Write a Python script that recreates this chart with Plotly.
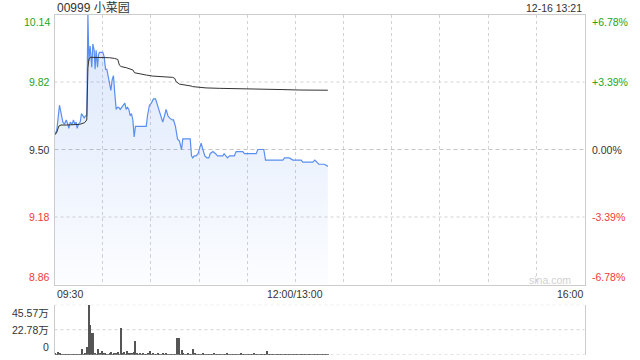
import plotly.graph_objects as go

# ---------------- data ----------------
title_text = "00999 小菜园"
stamp_text = "12-16 13:21"
prev_close = 9.50

price_ticks = [10.14, 9.82, 9.50, 9.18, 8.86]
price_tick_labels = ["10.14", "9.82", "9.50", "9.18", "8.86"]
pct_tick_labels = ["+6.78%", "+3.39%", "0.00%", "-3.39%", "-6.78%"]

time_tick_vals = [0, 150, 330]          # minutes of trading since 09:30
time_tick_labels = ["09:30", "12:00/13:00", "16:00"]

vol_ticks = [45.57, 22.78, 0]
vol_tick_labels = ["45.57万", "22.78万", "0"]

price_t = [0, 1.4, 3.1, 4.4, 5.2, 6.2, 7.3, 8.3, 8.9, 9.8, 11.0, 11.8, 12.7, 13.5, 14.1, 14.9,
           16.0, 16.8, 17.6, 18.5, 19.3, 20.1, 20.8, 21.4, 22.2, 23.2, 23.9, 24.7, 25.3, 25.9,
           26.8, 27.4, 28.0, 28.8, 30.1, 30.9, 31.8, 32.6, 33.4, 34.2, 35.1, 35.9, 36.7, 37.6,
           38.4, 39.2, 40.0, 40.9, 41.7, 43.0, 43.8, 44.6, 45.4, 46.3, 47.1, 47.9, 48.8, 49.6,
           50.4, 51.3, 57.1, 57.9, 59.1, 60.3, 61.6, 62.9, 63.7, 64.5, 65.8, 66.6, 67.4, 68.5,
           69.5, 70.6, 71.6, 73.3, 74.1, 75.3, 76.6, 77.8, 79.1, 79.9, 81.1, 83.2, 84.5, 85.3,
           86.1, 87.0, 88.2, 89.4, 90.3, 91.3, 92.4, 93.6, 94.9, 96.1, 96.9, 98.6, 100.3, 101.5,
           103.2, 104.8, 105.6, 106.9, 107.7, 109.0, 112.0, 113.1, 117.2, 118.3, 125.6, 126.6,
           130.3, 131.4, 142.2, 143.2, 146.3, 148.4, 153.6, 154.6, 160.8, 162.1, 163.3, 164.6,
           168.1, 170.2]
price_v = [9.57, 9.59, 9.71, 9.66, 9.63, 9.62, 9.64, 9.62, 9.60, 9.63, 9.62, 9.64, 9.62, 9.63, 9.60, 9.62,
           9.63, 9.67, 9.66, 9.65, 9.66, 9.66, 10.14, 9.92, 9.99, 9.89, 10.00, 9.97, 9.88, 9.97,
           9.89, 9.95, 9.96, 9.96, 9.96, 9.94, 9.88, 9.88, 9.85, 9.81, 9.78, 9.83, 9.85, 9.76,
           9.69, 9.70, 9.70, 9.69, 9.70, 9.71, 9.72, 9.69, 9.70, 9.69, 9.66, 9.67, 9.64, 9.56,
           9.61, 9.61, 9.61, 9.66, 9.71, 9.72, 9.74, 9.74, 9.72, 9.70, 9.67, 9.66, 9.63, 9.66,
           9.69, 9.66, 9.65, 9.64, 9.64, 9.61, 9.55, 9.54, 9.50, 9.55, 9.55, 9.55, 9.55, 9.47,
           9.46, 9.47, 9.47, 9.48, 9.50, 9.53, 9.50, 9.47, 9.46, 9.46, 9.48, 9.49, 9.48, 9.47,
           9.47, 9.47, 9.48, 9.47, 9.46, 9.47, 9.47, 9.49, 9.49, 9.48, 9.48, 9.50,
           9.50, 9.45, 9.45, 9.46, 9.46, 9.45, 9.45, 9.44, 9.44, 9.45, 9.44, 9.43,
           9.43, 9.42]

avg_t = [0, 1.2, 2.7, 4.1, 7.3, 15.6, 18.7, 20.1, 20.8, 21.4, 22.2, 30.1, 34.2, 37.3, 39.4,
         40.4, 41.5, 44.6, 47.7, 48.8, 49.8, 53.0, 57.1, 61.2, 67.4, 73.6, 74.9, 75.7, 77.8,
         81.9, 85.0, 86.1, 90.3, 94.4, 102.7, 111.0, 119.3, 129.7, 131.8, 142.2, 152.6, 170.2]
avg_v = [9.570, 9.577, 9.611, 9.616, 9.616, 9.619, 9.627, 9.640, 9.885, 9.927, 9.937, 9.937, 9.935,
         9.932, 9.927, 9.900, 9.893, 9.888, 9.882, 9.877, 9.864, 9.858, 9.853, 9.848, 9.845, 9.842,
         9.837, 9.822, 9.810, 9.806, 9.801, 9.798, 9.795, 9.792, 9.790, 9.788, 9.788, 9.787, 9.784,
         9.784, 9.782, 9.781]

vol_v = [1.2, 0.6, 2.4, 1.0, 0.6, 0.5, 0.7, 0.5, 0.6, 0.4,
         0.6, 0.5, 0.7, 0.4, 0.5, 0.6, 0.8, 5.2, 0.6, 1.0,
         7.0, 45.57, 27.3, 20.0, 20.0, 1.5, 0.8, 5.2, 1.2, 4.0,
         2.0, 1.5, 0.8, 0.6, 1.0, 2.4, 0.8, 1.0, 1.8, 2.4,
         0.9, 24.3, 1.0, 2.4, 0.8, 3.6, 1.5, 1.8, 1.2, 2.4,
         12.8, 1.0, 0.8, 1.2, 0.6, 1.5, 0.5, 0.7, 2.0, 3.6,
         0.8, 1.0, 0.6, 0.9, 1.2, 0.5, 0.7, 1.0, 0.6, 1.5,
         0.8, 0.6, 0.9, 0.5, 0.7, 0.8, 15.2, 15.2, 0.9, 4.6,
         1.0, 0.8, 0.6, 1.2, 0.7, 0.9, 5.5, 1.5, 0.8, 0.6,
         0.9, 0.7, 1.0, 0.6, 0.8, 0.5, 0.9, 0.7, 0.6, 1.1,
         0.8, 0.6, 0.7, 0.9, 0.5, 0.8, 0.7, 1.0, 0.6, 0.8,
         0.7, 0.9, 0.5, 0.6, 0.8, 0.7, 1.0, 0.6, 0.7, 0.9,
         0.5, 0.8, 0.6, 0.7, 1.1, 0.6, 0.8, 0.7, 0.9, 0.6,
         0.8, 0.7, 3.6, 0.9, 0.6, 0.8, 0.7, 0.5, 0.9, 0.6,
         0.8, 0.7, 0.6, 0.9, 0.5, 0.7, 0.8, 0.6, 0.7, 0.9,
         0.6, 0.8, 0.5, 0.7, 0.6, 0.8, 0.9, 0.6, 0.7, 0.5,
         0.8, 0.6, 0.7, 0.9, 0.6, 0.5, 0.7, 0.8, 0.6, 0.7,
         0.6]
vol_t = list(range(len(vol_v)))

# ---------------- style ----------------
W, H = 640, 360
FONT = "Liberation Sans, Arial, Noto Sans CJK SC, sans-serif"
GREEN = "#22a522"
RED = "#f23a3a"
DARK = "#333333"
GRID = "#d2d2d2"
BORDER = "#cccccc"
BLUE = "#5a8ff0"

x0px, x1px = 54.5, 584.5
main_top, main_bot = 14.5, 284.5
vol_top, vol_bot = 304.7, 354.7


def py(p):
    return 1 - p / H


xdom = [x0px / W, x1px / W]
tick_colors = [GREEN, GREEN, DARK, RED, RED]

fig = go.Figure()

fig.add_trace(go.Scatter(
    x=price_t, y=price_v, mode="lines",
    line=dict(color=BLUE, width=1.2),
    fill="tozeroy",
    fillgradient=dict(type="vertical",
                      colorscale=[[0, "rgba(90,143,240,0.02)"], [1, "rgba(90,143,240,0.22)"]],
                      start=price_ticks[-1], stop=price_ticks[0]),
    xaxis="x", yaxis="y", hoverinfo="skip", showlegend=False))

fig.add_trace(go.Scatter(
    x=avg_t, y=avg_v, mode="lines",
    line=dict(color="#333333", width=1),
    xaxis="x", yaxis="y", hoverinfo="skip", showlegend=False))

fig.add_trace(go.Bar(
    x=vol_t, y=vol_v, width=0.7, marker=dict(color="#555555", line=dict(width=0)),
    xaxis="x2", yaxis="y2", hoverinfo="skip", showlegend=False))

axis_common = dict(showticklabels=False, ticks="", zeroline=False, fixedrange=True)

fig.update_layout(
    width=W, height=H,
    margin=dict(l=0, r=0, t=0, b=0),
    paper_bgcolor="white", plot_bgcolor="white",
    font=dict(family=FONT, size=10.5, color=DARK),
    bargap=0,
    xaxis=dict(domain=xdom, range=[time_tick_vals[0], time_tick_vals[-1]],
               showgrid=True, tick0=0, dtick=30, gridcolor=GRID, griddash="dot", gridwidth=1,
               showline=True, mirror=True, linecolor=BORDER, linewidth=1, anchor="y", **axis_common),
    yaxis=dict(domain=[py(main_bot), py(main_top)], range=[price_ticks[-1], price_ticks[0]],
               showgrid=False, showline=True, mirror=True, linecolor=BORDER, linewidth=1,
               anchor="x", **axis_common),
    xaxis2=dict(domain=xdom, range=[time_tick_vals[0], time_tick_vals[-1]],
                showgrid=False, showline=False, anchor="y2", **axis_common),
    yaxis2=dict(domain=[py(vol_bot), py(vol_top)], range=[vol_ticks[-1], vol_ticks[0]],
                showgrid=False, showline=True, mirror=True, linecolor=BORDER, linewidth=1,
                anchor="x2", **axis_common),
)

shapes = []
# horizontal price grid lines
for v in price_ticks[1:-1]:
    dash = "4px,3px" if v == prev_close else "dot"
    col = "#c4c4c4" if v == prev_close else GRID
    shapes.append(dict(type="line", xref="paper", yref="y", x0=xdom[0], x1=xdom[1], y0=v, y1=v,
                       line=dict(color=col, width=1, dash=dash), layer="below"))
# volume grid lines
for v in vol_ticks:
    shapes.append(dict(type="line", xref="paper", yref="y2", x0=xdom[0], x1=xdom[1], y0=v, y1=v,
                       line=dict(color=GRID, width=1, dash="dot"), layer="below"))
fig.update_layout(shapes=shapes)

ann = []
n = len(price_ticks)
for i, (v, lab, pct, c) in enumerate(zip(price_ticks, price_tick_labels, pct_tick_labels, tick_colors)):
    ya = "top" if i == 0 else ("bottom" if i == n - 1 else "middle")
    ann.append(dict(x=(x0px - 3) / W, y=v, xref="paper", yref="y", text=lab, showarrow=False,
                    xanchor="right", yanchor=ya, font=dict(color=c, size=10.5)))
    ann.append(dict(x=(x1px + 5) / W, y=v, xref="paper", yref="y", text=pct, showarrow=False,
                    xanchor="left", yanchor=ya, font=dict(color=c, size=10.5)))

for i, (v, lab) in enumerate(zip(vol_ticks, vol_tick_labels)):
    ya = "top" if i == 0 else ("bottom" if i == len(vol_ticks) - 1 else "middle")
    ann.append(dict(x=(x0px - 4) / W, y=v, xref="paper", yref="y2", text=lab, showarrow=False,
                    xanchor="right", yanchor=ya, font=dict(color=DARK, size=10.5)))

for i, (v, lab) in enumerate(zip(time_tick_vals, time_tick_labels)):
    xa = "left" if i == 0 else ("right" if i == len(time_tick_vals) - 1 else "center")
    ann.append(dict(x=v, y=py(293.5), xref="x", yref="paper", text=lab, showarrow=False,
                    xanchor=xa, yanchor="middle", xshift=0, font=dict(color=DARK, size=10.5)))

ann.append(dict(x=x0px / W, y=py(7.5), xref="paper", yref="paper", text=title_text,
                showarrow=False, xanchor="left", yanchor="middle", font=dict(color=DARK, size=12)))
ann.append(dict(x=(x1px - 1) / W, y=py(8), xref="paper", yref="paper", text=stamp_text,
                showarrow=False, xanchor="right", yanchor="middle", font=dict(color=DARK, size=10.5)))
ann.append(dict(x=(x1px - 12) / W, y=py(279.5), xref="paper", yref="paper", text="sina.com",
                showarrow=False, xanchor="right", yanchor="middle", font=dict(color="#d0d0d0", size=10.5)))

fig.update_layout(annotations=ann)

fig.write_html("out.html")
